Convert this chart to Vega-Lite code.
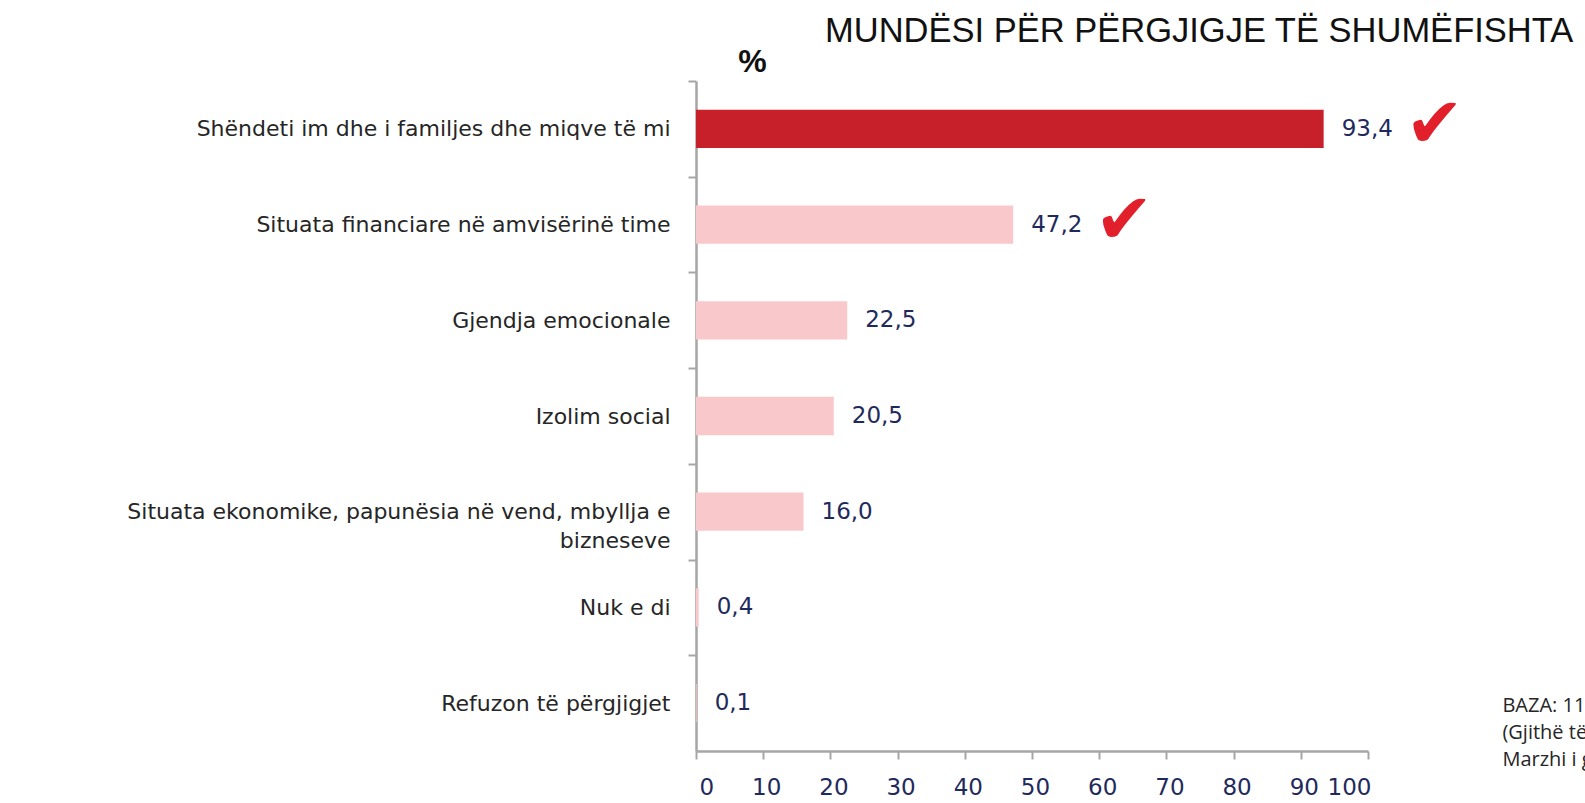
{
  "$schema": "https://vega.github.io/schema/vega-lite/v6.json",
  "width": 672,
  "height": 670,
  "autosize": {"type": "none"},
  "padding": {"left": 696, "top": 81, "right": 217, "bottom": 52},
  "background": "white",
  "config": {"view": {"stroke": null}},
  "title": {
    "text": "MUNDËSI PËR PËRGJIGJE TË SHUMËFISHTA",
    "anchor": "start",
    "frame": "group",
    "dx": 129,
    "offset": -31,
    "baseline": "alphabetic",
    "font": "Liberation Sans",
    "fontSize": 34.5,
    "fontWeight": "normal",
    "color": "#111111"
  },
  "data": {
    "values": [
      {"cat": "Shëndeti im dhe i familjes dhe miqve të mi", "pct": 93.4, "label": "93,4", "check": true},
      {"cat": "Situata financiare në amvisërinë time", "pct": 47.2, "label": "47,2", "check": true},
      {"cat": "Gjendja emocionale", "pct": 22.5, "label": "22,5", "check": false},
      {"cat": "Izolim social", "pct": 20.5, "label": "20,5", "check": false},
      {"cat": "Situata ekonomike, papunësia në vend, mbyllja e bizneseve", "pct": 16.0, "label": "16,0", "check": false},
      {"cat": "Nuk e di", "pct": 0.4, "label": "0,4", "check": false},
      {"cat": "Refuzon të përgjigjet", "pct": 0.1, "label": "0,1", "check": false}
    ]
  },
  "encoding": {
    "y": {
      "field": "cat",
      "type": "nominal",
      "sort": null,
      "scale": {"paddingInner": 0.6, "paddingOuter": 0.3},
      "axis": {
        "title": "%",
        "titleAngle": 0,
        "titleX": 56,
        "titleY": -10,
        "titleAlign": "center",
        "titleBaseline": "alphabetic",
        "titleFont": "Liberation Sans",
        "titleFontSize": 32,
        "titleFontWeight": "bold",
        "titleColor": "#111111",
        "tickOffset": -47.86,
        "labelOffset": 47.86,
        "tickSize": 8,
        "tickWidth": 2,
        "tickColor": "#A6A6A6",
        "domainColor": "#A6A6A6",
        "domainWidth": 2.5,
        "labelFont": "DejaVu Sans",
        "labelFontSize": 22,
        "labelColor": "#262626",
        "labelLimit": 800,
        "labelLineHeight": 29,
        "labelPadding": 18,
        "labelExpr": "datum.value == 'Situata ekonomike, papunësia në vend, mbyllja e bizneseve' ? ['Situata ekonomike, papunësia në vend, mbyllja e', 'bizneseve'] : datum.value"
      }
    }
  },
  "layer": [
    {
      "mark": {"type": "bar"},
      "encoding": {
        "x": {
          "field": "pct",
          "type": "quantitative",
          "scale": {"domain": [0, 100], "nice": false},
          "axis": {
            "title": null,
            "values": [0, 10, 20, 30, 40, 50, 60, 70, 80, 90, 100],
            "grid": false,
            "tickSize": 8,
            "tickWidth": 2,
            "tickColor": "#A6A6A6",
            "domainColor": "#A6A6A6",
            "domainWidth": 2.5,
            "labelFont": "DejaVu Sans",
            "labelFontSize": 23,
            "labelColor": "#1F2A5C",
            "labelPadding": 17,
            "labelOffset": 3
          }
        },
        "color": {"condition": {"test": "datum.pct > 90", "value": "#C8202B"}, "value": "#F9C8CB"}
      }
    },
    {
      "mark": {"type": "text", "align": "left", "baseline": "middle", "dx": 18, "font": "DejaVu Sans", "fontSize": 23, "color": "#1F2A5C"},
      "encoding": {
        "x": {"field": "pct", "type": "quantitative"},
        "text": {"field": "label"}
      }
    },
    {
      "transform": [{"filter": "datum.check"}],
      "mark": {"type": "text", "align": "center", "baseline": "middle", "dx": 111, "dy": -3, "font": "DejaVu Sans", "fontSize": 70, "color": "#E2202B"},
      "encoding": {
        "x": {"field": "pct", "type": "quantitative"},
        "text": {"value": "✔"}
      }
    },
    {
      "data": {"values": [{"cat": "Refuzon të përgjigjet", "note": ["BAZA: 1100", "(Gjithë të anketuarit)", "Marzhi i gabimit ±3%"]}]},
      "mark": {"type": "text", "align": "left", "baseline": "middle", "dy": 3, "font": "Open Sans", "fontSize": 20, "lineHeight": 27, "color": "#262626"},
      "encoding": {
        "x": {"datum": 120, "type": "quantitative"},
        "y": {"field": "cat", "type": "nominal"},
        "text": {"field": "note"}
      }
    }
  ]
}
